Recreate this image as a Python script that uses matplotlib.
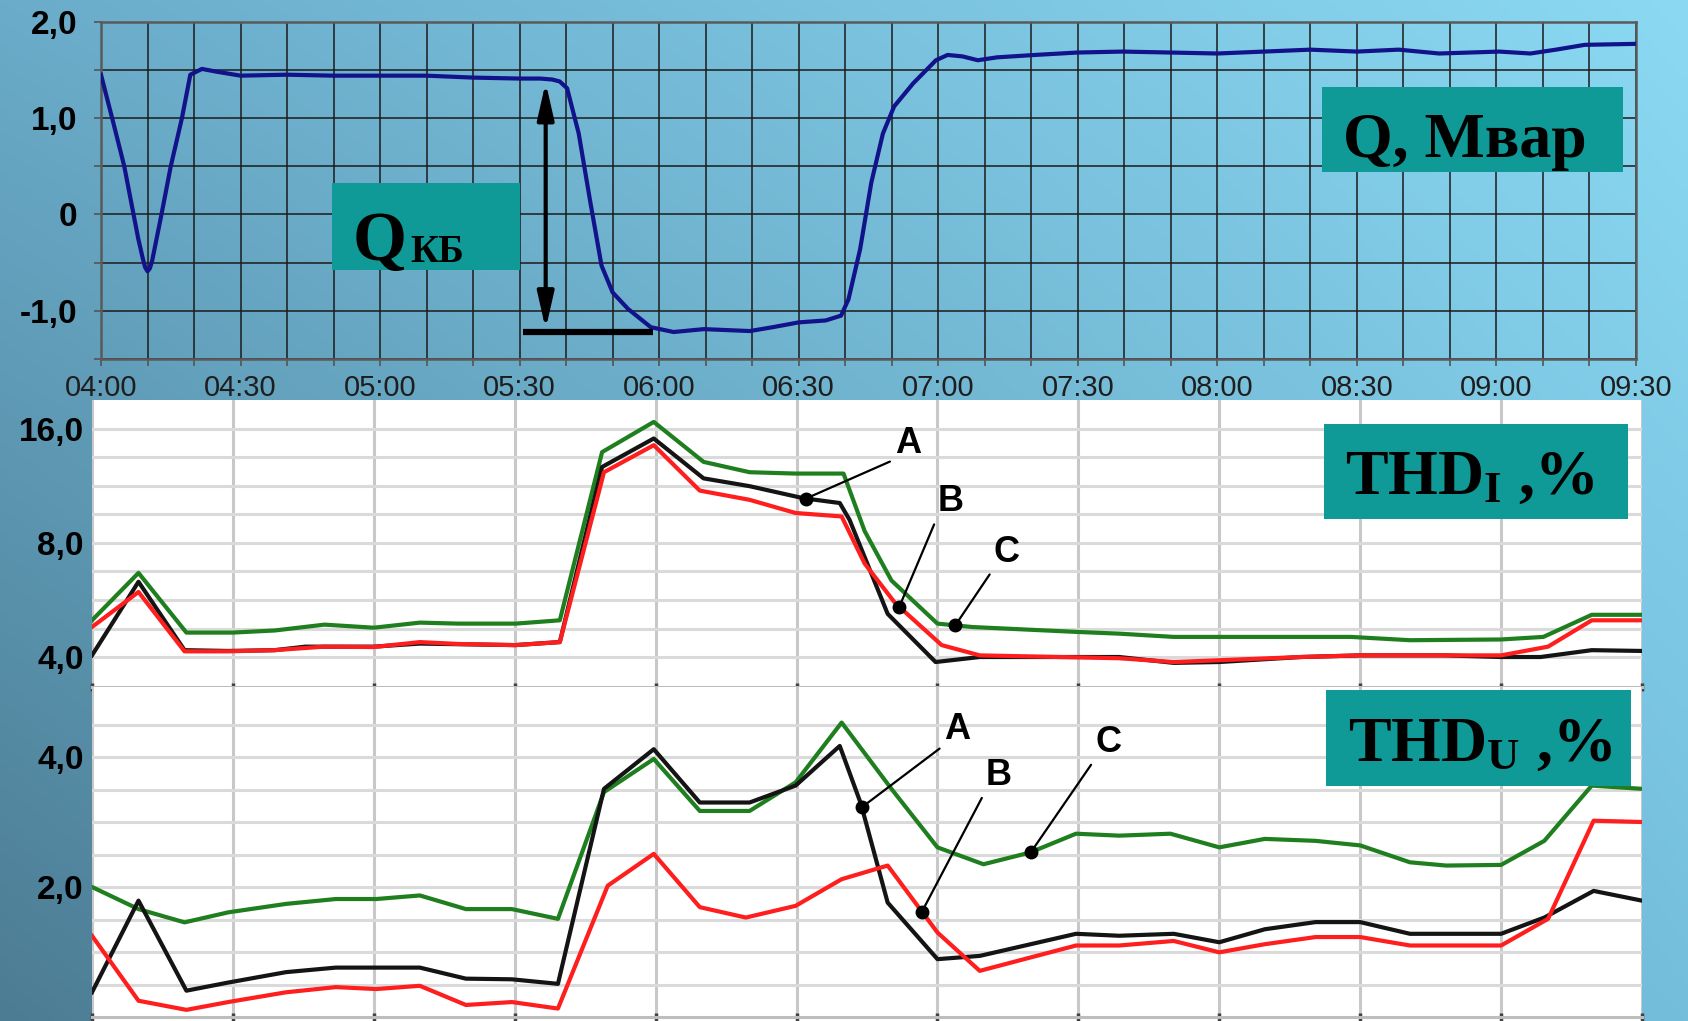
import numpy as np
import matplotlib
matplotlib.use("Agg")
import matplotlib.pyplot as plt
from matplotlib.patches import Rectangle
from matplotlib.ticker import FixedLocator, FixedFormatter, NullFormatter

plt.rcParams['font.family'] = ['Liberation Sans', 'DejaVu Sans']
plt.rcParams['mathtext.fontset'] = 'custom'
plt.rcParams['mathtext.rm'] = 'Liberation Serif'
plt.rcParams['mathtext.bf'] = 'Liberation Serif:bold'
plt.rcParams['mathtext.it'] = 'Liberation Serif:bold'

# ---------------- data (time = minutes after 04:00) ----------------
time_labels = ["04:00", "04:30", "05:00", "05:30", "06:00", "06:30",
               "07:00", "07:30", "08:00", "08:30", "09:00", "09:30"]

q_time = [0, 2.5, 5, 7, 8, 9, 9.5, 10, 10.5, 11, 12, 13, 15, 17.4, 19.2, 21.7, 25, 30, 40, 50, 60,
          70, 80, 90, 94.4, 97, 98.6, 100.2, 102.7, 105.1, 107.6, 110, 113.3,
          118.2, 123.1, 129.6, 139.5, 144.4, 150, 155.8, 159.1, 160.7, 163.2,
          165.6, 168.1, 170.5, 174.6, 179.5, 182, 185.2, 188.5, 192.6, 200.8,
          209.8, 219.6, 230, 240, 250, 260, 270, 279, 287.7, 300.6, 307.3,
          312.8, 319, 330]
q_value = [1.45, 0.98, 0.5, 0.0, -0.25, -0.46, -0.55, -0.59, -0.56, -0.48, -0.24, 0.0, 0.5, 1.0, 1.45, 1.51,
           1.48, 1.44, 1.45, 1.44, 1.44, 1.44, 1.42, 1.41, 1.41, 1.40, 1.38,
           1.31, 0.84, 0.155, -0.53, -0.81, -0.98, -1.17, -1.22, -1.19, -1.21,
           -1.17, -1.12, -1.10, -1.05, -0.88, -0.36, 0.33, 0.84, 1.12, 1.36,
           1.60, 1.655, 1.64, 1.60, 1.63, 1.655, 1.68, 1.69, 1.68, 1.67, 1.69,
           1.71, 1.69, 1.71, 1.67, 1.69, 1.67, 1.71, 1.76, 1.77]

# THD_I, %
thdi_c_time = [0, 9.9, 20.1, 29.9, 38.9, 49.5, 60, 69.8, 78, 90.2, 99.6, 108.6,
               119.6, 130.2, 140, 149.8, 160, 164.5, 170.2, 180, 187.4, 209.5,
               218.7, 230.3, 268, 280.6, 300, 309, 319.3, 330]
thdi_c = [5.0, 6.67, 4.64, 4.64, 4.70, 4.87, 4.78, 4.93, 4.9, 4.9, 5.0, 13.9,
          16.7, 13.1, 12.3, 12.2, 12.2, 8.6, 6.37, 4.9, 4.8, 4.66, 4.61, 4.52,
          4.52, 4.43, 4.45, 4.52, 5.17, 5.17]
thdi_a_time = [0, 9.9, 19.7, 29, 38.9, 45.4, 60, 69.8, 90, 99.6, 108.6, 119.6,
               130.2, 140, 151.5, 159.2, 161.3, 169.4, 179.6, 189, 218.7, 230.3,
               240, 257.4, 270, 288, 300, 308.4, 319.3, 330]
thdi_a = [4.04, 6.32, 4.17, 4.15, 4.17, 4.26, 4.26, 4.34, 4.3, 4.38, 12.7, 15.1,
          11.85, 11.3, 10.5, 10.2, 9.2, 5.2, 3.88, 4.0, 4.0, 3.86, 3.88, 4.0,
          4.04, 4.04, 4.0, 4.0, 4.17, 4.15]
thdi_b_time = [0, 9.9, 19.7, 29, 38.9, 49.5, 60, 69.8, 78, 90.2, 99.6, 109,
               119.6, 129.4, 140, 149.8, 159.6, 164.5, 171, 180.9, 189, 218.7,
               230.3, 257.4, 270, 300, 310, 319.3, 330]
thdi_b = [4.80, 5.94, 4.14, 4.14, 4.17, 4.26, 4.25, 4.38, 4.33, 4.3, 4.38, 12.3,
          14.5, 11.0, 10.4, 9.6, 9.4, 7.06, 5.55, 4.3, 4.04, 3.97, 3.88, 4.0,
          4.04, 4.04, 4.26, 5.0, 5.0]

# THD_U, %
thdu_c_time = [0, 9.9, 19.7, 29, 41.3, 51.9, 60.5, 69.8, 79.6, 89.4, 99.2, 109,
               119.6, 129.4, 140, 149.8, 159.6, 170.2, 180, 189.8, 199.7, 209.5,
               218.7, 229.6, 240, 249.7, 260.5, 270, 280.6, 288.3, 300, 309.2,
               319.3, 330]
thdu_c = [2.0, 1.66, 1.456, 1.61, 1.74, 1.815, 1.815, 1.87, 1.66, 1.66, 1.51,
          3.46, 3.97, 3.17, 3.17, 3.61, 4.53, 3.51, 2.61, 2.35, 2.53, 2.82, 2.79,
          2.82, 2.61, 2.74, 2.71, 2.64, 2.38, 2.33, 2.34, 2.71, 3.56, 3.51]
thdu_a_time = [0, 9.9, 20.1, 29, 41.3, 51.9, 69.8, 79.6, 89.4, 99.2, 109, 119.6,
               129.4, 140, 149.8, 159.2, 163.7, 169.4, 180, 189, 209.5, 218.7,
               230.3, 240, 249.7, 260.5, 270, 280.6, 300, 309.2, 319.7, 330]
thdu_a = [0.38, 1.79, 0.405, 0.53, 0.69, 0.76, 0.76, 0.59, 0.58, 0.51, 3.51,
          4.12, 3.30, 3.30, 3.56, 4.17, 3.28, 1.76, 0.89, 0.94, 1.28, 1.25, 1.28,
          1.15, 1.35, 1.46, 1.46, 1.28, 1.28, 1.53, 1.94, 1.79]
thdu_b_time = [0, 9.9, 20.1, 29, 41.3, 51.9, 60.5, 69.8, 79.6, 89.4, 99.2, 109.8,
               119.6, 129.4, 139.2, 149.8, 159.6, 169.4, 180, 189, 209.5, 218.7,
               230.3, 240, 249.7, 260.5, 270, 280.6, 300, 310, 319.7, 330]
thdu_b = [1.25, 0.25, 0.11, 0.23, 0.38, 0.46, 0.43, 0.48, 0.185, 0.23, 0.13,
          2.02, 2.51, 1.69, 1.53, 1.71, 2.12, 2.33, 1.30, 0.71, 1.10, 1.10, 1.17,
          0.995, 1.12, 1.23, 1.23, 1.10, 1.10, 1.51, 3.02, 3.0]

# annotations: (label, point time, text time, text value)
thdi_notes = [("A", 152.0, 173.8, 14.65), ("B", 171.9, 182.7, 10.29), ("C", 183.8, 194.8, 7.56)]
thdu_notes = [("A", 163.9, 184.3, 4.43), ("B", 176.7, 193.0, 3.72), ("C", 199.9, 216.4, 4.22)]

# Q_KB measurement marker
qkb_time, qkb_top, qkb_bottom = 95.6, 1.37, -1.19
qkb_base_start, qkb_base_end, qkb_base_value = 90.7, 118.7, -1.22

# ---------------- styling ----------------
W, H = 1688, 1021
TEAL = '#0f9a97'
GREEN, BLACK, RED = '#1f7f1f', '#141414', '#ff1e1e'
QBLUE = '#12128a'


def rect(x0, y0, x1, y1):
    return [x0 / W, 1 - y1 / H, (x1 - x0) / W, (y1 - y0) / H]


fig = plt.figure(figsize=(W / 100, H / 100), dpi=100)

# background gradient
bg = fig.add_axes([0, 0, 1, 1], zorder=-10)
TL = np.array([106, 172, 202]) / 255
TR = np.array([139, 217, 243]) / 255
BL = np.array([76, 124, 147]) / 255
BR = np.array([116, 190, 220]) / 255
u = np.linspace(0, 1, 300)[None, :, None]
v = np.linspace(0, 1, 200)[:, None, None]
img = (1 - v) * ((1 - u) * TL + u * TR) + v * ((1 - u) * BL + u * BR)
bg.imshow(img, extent=[0, 1, 0, 1], aspect='auto', origin='upper', interpolation='bilinear')
bg.axis('off')

# ---------------- Q chart ----------------
ax = fig.add_axes(rect(101, 21.7, 1636, 359))
ax.patch.set_alpha(0)
ax.plot(q_time, q_value, color=QBLUE, lw=3, solid_joinstyle='round', zorder=3)
ax.set_xlim(0, 330)
ax.set_ylim(-1.5, 2.0)
xt = np.arange(0, 331, 30)
ax.xaxis.set_major_locator(FixedLocator(xt))
ax.xaxis.set_major_formatter(FixedFormatter(time_labels))
ax.xaxis.set_minor_locator(FixedLocator(np.arange(0, 331, 10)))
ax.yaxis.set_major_locator(FixedLocator([-1, 0, 1, 2]))
ax.yaxis.set_major_formatter(FixedFormatter(["-1,0", "0", "1,0", "2,0"]))
ax.yaxis.set_minor_locator(FixedLocator([-1.5, -0.5, 0.5, 1.5]))
ax.grid(which='both', color='#1c1c1c', lw=1.3, alpha=0.85, zorder=1)
ax.set_axisbelow(True)
ax.tick_params(axis='both', which='both', length=5, width=1.2, color='#555555')
ax.tick_params(axis='x', which='major', labelsize=21, labelcolor='#1e1e1e', pad=6)
ax.tick_params(axis='y', which='major', labelsize=24, pad=12)
for lab in ax.get_yticklabels():
    lab.set_fontweight('bold')
for s in ax.spines.values():
    s.set_color('#5a5a5a')
    s.set_linewidth(1.8)

ax.annotate('', xy=(qkb_time, qkb_bottom), xytext=(qkb_time, qkb_top),
            arrowprops=dict(arrowstyle='<|-|>,head_length=1.1,head_width=0.25',
                            lw=3, color='black', shrinkA=0, shrinkB=0,
                            mutation_scale=20), zorder=4)
ax.plot([qkb_base_start, qkb_base_end], [qkb_base_value, qkb_base_value],
        color='black', lw=4.5, solid_capstyle='butt', zorder=4)


def style_thd(a):
    a.set_facecolor('white')
    a.set_xlim(0, 330)
    a.xaxis.set_major_locator(FixedLocator(np.arange(0, 331, 30)))
    a.xaxis.set_major_formatter(NullFormatter())
    a.grid(axis='x', which='major', color='#c8c8c8', lw=2.2, zorder=0)
    a.grid(axis='y', which='minor', color='#dadada', lw=2.2, zorder=0)
    a.grid(axis='y', which='major', color='#dadada', lw=2.2, zorder=0)
    a.set_axisbelow(True)
    for k in ['top', 'left', 'right']:
        a.spines[k].set_visible(False)
    a.spines['bottom'].set_color('#bdbdbd')
    a.spines['bottom'].set_linewidth(2.2)
    a.tick_params(axis='x', which='major', direction='inout', length=6, width=2.5, color='#404040')
    a.tick_params(axis='y', which='both', length=0, labelsize=24, pad=6)


def annotate(a, notes, times, values):
    for lab, t, tt, tv in notes:
        pv = float(np.interp(t, times, values))
        a.plot([t], [pv], 'o', color='black', ms=9, zorder=6)
        a.annotate(lab, xy=(t, pv), xytext=(tt, tv), textcoords='data',
                   fontsize=26, fontweight='bold', ha='center', va='center',
                   arrowprops=dict(arrowstyle='-', lw=1.6, color='black',
                                   shrinkA=2, shrinkB=0, relpos=(0.0, 0.05)),
                   zorder=6)


# ---------------- THD_I chart ----------------
ai = fig.add_axes(rect(92, 400, 1642, 687))
ai.set_yscale('log', base=2)
ai.set_ylim(2 ** 1.737, 2 ** 4.254)
style_thd(ai)
ai.yaxis.set_major_locator(FixedLocator([4, 8, 16]))
ai.yaxis.set_major_formatter(FixedFormatter(["4,0", "8,0", "16,0"]))
ai.yaxis.set_minor_locator(FixedLocator(2 ** np.arange(2.25, 4.0, 0.25)))
ai.yaxis.set_minor_formatter(NullFormatter())
ai.plot(thdi_c_time, thdi_c, color=GREEN, lw=3, zorder=3)
ai.plot(thdi_a_time, thdi_a, color=BLACK, lw=3, zorder=3)
ai.plot(thdi_b_time, thdi_b, color=RED, lw=3, zorder=3)
for lab in ai.get_yticklabels():
    lab.set_fontweight('bold')
annotate(ai, [thdi_notes[0]], thdi_a_time, thdi_a)
annotate(ai, [thdi_notes[1]], thdi_b_time, thdi_b)
annotate(ai, [thdi_notes[2]], thdi_c_time, thdi_c)

# ---------------- THD_U chart ----------------
au = fig.add_axes(rect(92, 687, 1642, 1021))
au.set_ylim(-0.0615, 5.077)
style_thd(au)
au.spines['bottom'].set_position(('data', 0))
au.yaxis.set_major_locator(FixedLocator([2, 4]))
au.yaxis.set_major_formatter(FixedFormatter(["2,0", "4,0"]))
au.yaxis.set_minor_locator(FixedLocator(np.arange(0.5, 4.6, 0.5)))
au.yaxis.set_minor_formatter(NullFormatter())
au.plot(thdu_c_time, thdu_c, color=GREEN, lw=3, zorder=3)
au.plot(thdu_a_time, thdu_a, color=BLACK, lw=3, zorder=3)
au.plot(thdu_b_time, thdu_b, color=RED, lw=3, zorder=3)
for lab in au.get_yticklabels():
    lab.set_fontweight('bold')
annotate(au, [thdu_notes[0]], thdu_a_time, thdu_a)
annotate(au, [thdu_notes[1]], thdu_b_time, thdu_b)
annotate(au, [thdu_notes[2]], thdu_c_time, thdu_c)

# ---------------- label boxes (pixel overlay) ----------------
ov = fig.add_axes([0, 0, 1, 1], zorder=20)
ov.set_xlim(0, W)
ov.set_ylim(H, 0)
ov.axis('off')
ov.patch.set_alpha(0)
serif = dict(family='Liberation Serif', fontweight='bold', color='black')
for (x0, y0, x1, y1) in [(332, 183, 520, 270), (1322, 87, 1623, 172),
                         (1324, 424, 1628, 519), (1326, 690, 1631, 786)]:
    ov.add_patch(Rectangle((x0, y0), x1 - x0, y1 - y0, facecolor=TEAL, edgecolor='none'))
ov.text(353, 260, "Q", fontsize=50, ha='left', va='baseline', **serif)
ov.text(410, 262, "КБ", fontsize=28, ha='left', va='baseline', **serif)
ov.text(1343, 157, "Q, Мвар", fontsize=46, ha='left', va='baseline', **serif)
ov.text(1345, 494, r"$\mathbf{THD}_{\mathbf{I}}$ ,%", fontsize=46, ha='left', va='baseline', **serif)
ov.text(1348, 761, r"$\mathbf{THD}_{\mathbf{U}}$ ,%", fontsize=46, ha='left', va='baseline', **serif)

fig.savefig("out.png", dpi=100)
